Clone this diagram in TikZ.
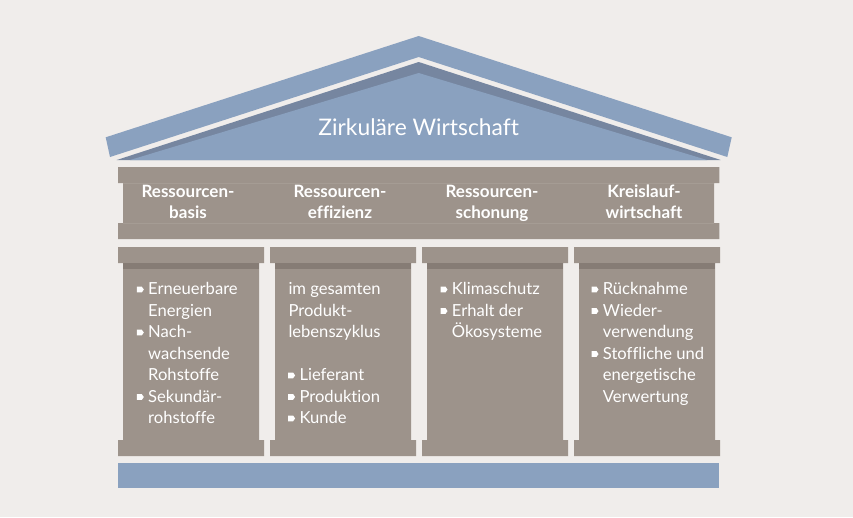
\documentclass[tikz,border=0pt]{standalone}
\usepackage{fontspec}
\setmainfont{Lato}[Ligatures=NoCommon]
\definecolor{bg}{HTML}{F0EDEB}
\definecolor{roofblue}{HTML}{8AA1BF}
\definecolor{roofdark}{HTML}{7686A0}
\definecolor{stone}{HTML}{9D938B}
\definecolor{stonedark}{HTML}{867C75}
\definecolor{stoneline}{HTML}{A59C94}
\newcommand{\bul}{\llap{\raisebox{2.5pt}{\tikz\fill[white] (0,0)--(5pt,0)--(7pt,2.9pt)--(5pt,5.8pt)--(0,5.8pt)--cycle;}\hspace{4.4pt}}}

\begin{document}
\begin{tikzpicture}[x=1pt,y=-1pt,
	title/.style={text=white,font=\fontsize{22.8}{27}\selectfont,inner sep=0pt},
	head/.style={text=white,font=\bfseries\fontsize{17}{21}\selectfont,align=center,inner sep=0pt,anchor=base},
	body/.style={text=white,font=\fontsize{16.6}{21.5}\selectfont,align=left,inner sep=0pt,anchor=north west}]
		\fill[bg] (0,0) rectangle (853,517);
		\fill[roofblue] (105.7,137.3)--(418.7,36)--(731.7,137.3)--(727.3,157)--(418.7,57)--(110,157)--cycle;
		\fill[roofdark] (116.7,160)--(418.7,62)--(720.7,160)--cycle;
		\fill[roofblue] (130,160)--(418.7,73)--(707,160)--cycle;
		\fill[stone] (118,167)--(719.3,167)--(719.3,183)--(714,183)--(714,223)--(719.3,223)--(719.3,239)--(118,239)--(118,223)--(123,223)--(123,183)--(118,183)--cycle;
		\draw[stoneline, line width=0.8pt] (123,183)--(714,183);
		\draw[stoneline, line width=0.8pt] (123,223)--(714,223);
		\fill[stone] (118,247)--(264,247)--(264,263)--(259,263)--(259,440)--(264,440)--(264,456)--(118,456)--(118,440)--(123,440)--(123,263)--(118,263)--cycle;
		\fill[stone] (270,247)--(416,247)--(416,263)--(411,263)--(411,440)--(416,440)--(416,456)--(270,456)--(270,440)--(275,440)--(275,263)--(270,263)--cycle;
		\fill[stone] (422,247)--(568,247)--(568,263)--(563,263)--(563,440)--(568,440)--(568,456)--(422,456)--(422,440)--(427,440)--(427,263)--(422,263)--cycle;
		\fill[stone] (574,247)--(720,247)--(720,263)--(715,263)--(715,440)--(720,440)--(720,456)--(574,456)--(574,440)--(579,440)--(579,263)--(574,263)--cycle;
		\fill[stonedark] (123,263) rectangle (259,269);
		\fill[stonedark] (275,263) rectangle (411,269);
		\fill[stonedark] (427,263) rectangle (563,269);
		\fill[stonedark] (579,263) rectangle (715,269);
		\fill[roofblue] (118,463) rectangle (719.3,488);
		\node[title] (titel) at (418.7,127) {Zirkuläre Wirtschaft};
		\node[head] (basis) at (188,218.3) {Ressourcen-\\basis};
		\node[head] (effizienz) at (340,218.3) {Ressourcen-\\effizienz};
		\node[head] (schonung) at (492,218.3) {Ressourcen-\\schonung};
		\node[head] (kreislauf) at (644,218.3) {Kreislauf-\\wirtschaft};
		\node[body] (basistext) at (148,282.5) {\bul Erneuerbare\\Energien\\\bul Nach-\\wachsende\\Rohstoffe\\\bul Sekundär-\\rohstoffe};
		\node[body] (effizienztext) at (288.3,282.5) {im gesamten\\Produkt-\\lebenszyklus};
		\node[body] (effizienzliste) at (299.3,368.5) {\bul Lieferant\\\bul Produktion\\\bul Kunde};
		\node[body] (schonungtext) at (451.7,282.5) {\bul Klimaschutz\\\bul Erhalt der\\Ökosysteme};
		\node[body] (kreislauftext) at (602.7,282.5) {\bul Rücknahme\\\bul Wieder-\\verwendung\\\bul Stoffliche und\\energetische\\Verwertung};
		\end{tikzpicture}
\end{document}
